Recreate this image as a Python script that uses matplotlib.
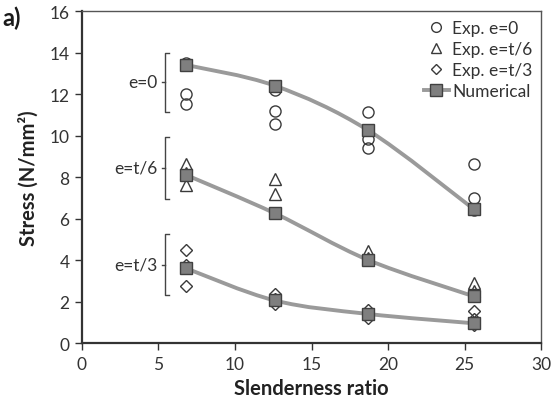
import numpy as np
import matplotlib
matplotlib.use("Agg")
import matplotlib.pyplot as plt
from matplotlib.path import Path
from matplotlib.patches import PathPatch

plt.rcParams['font.family'] = ['Lato', 'DejaVu Sans']

# slenderness ratios
slender = [6.8, 12.6, 18.7, 25.6]

# numerical results
num_e0 = [13.4, 12.4, 10.25, 6.45]
num_e6 = [8.1, 6.25, 4.0, 2.25]
num_e3 = [3.6, 2.05, 1.4, 0.95]

# experimental results (several specimens per slenderness)
exp_e0 = [[13.5, 12.0, 11.5], [12.2, 11.2, 10.55], [11.15, 9.85, 9.4], [8.65, 7.0, 6.4]]
exp_e6 = [[8.65, 8.2, 7.6], [7.9, 7.2], [4.45, 4.1], [2.9, 2.5]]
exp_e3 = [[4.5, 3.75, 2.75], [2.35, 2.1, 1.9], [1.6, 1.4, 1.2], [1.55, 1.15, 0.85]]

# group brackets: label, top, bottom
groups = [("e=0", 14.0, 11.15), ("e=t/6", 9.95, 6.95), ("e=t/3", 5.25, 2.3)]

fig = plt.figure(figsize=(5.55, 4.06), dpi=100)
ax = fig.add_axes([0.1477, 0.1527, 0.8273, 0.8177])


def smooth_path(x, y):
    # catmull-rom style smoothing like the spreadsheet "smoothed line"
    x = np.asarray(x, float)
    y = np.asarray(y, float)
    verts = [(x[0], y[0])]
    codes = [Path.MOVETO]
    n = len(x)
    for i in range(n - 1):
        p0 = (x[max(i - 1, 0)], y[max(i - 1, 0)])
        p1 = (x[i], y[i])
        p2 = (x[i + 1], y[i + 1])
        p3 = (x[min(i + 2, n - 1)], y[min(i + 2, n - 1)])
        c1 = (p1[0] + (p2[0] - p0[0]) / 6, p1[1] + (p2[1] - p0[1]) / 6)
        c2 = (p2[0] - (p3[0] - p1[0]) / 6, p2[1] - (p3[1] - p1[1]) / 6)
        verts += [c1, c2, p2]
        codes += [Path.CURVE4] * 3
    return Path(verts, codes)


line_col = '#9a9a9a'
for ny in (num_e0, num_e6, num_e3):
    ax.add_patch(PathPatch(smooth_path(slender, ny), fc='none', ec=line_col, lw=2.8, zorder=2))

edge = '#3a3a3a'
for data, mk, ms in ((exp_e0, 'o', 8), (exp_e6, '^', 8), (exp_e3, 'D', 6.5)):
    xs = [slender[i] for i, vals in enumerate(data) for _ in vals]
    ys = [v for vals in data for v in vals]
    ax.plot(xs, ys, ls='none', marker=mk, ms=ms, mfc='none', mec=edge, mew=1.0, zorder=3)

for ny in (num_e0, num_e6, num_e3):
    ax.plot(slender, ny, ls='none', marker='s', ms=8.5, mfc='#7f7f7f', mec='#404040', mew=1.0, zorder=4)

# legend handles
h1, = ax.plot([], [], ls='none', marker='o', ms=7, mfc='none', mec=edge, mew=1.0)
h2, = ax.plot([], [], ls='none', marker='^', ms=7, mfc='none', mec=edge, mew=1.0)
h3, = ax.plot([], [], ls='none', marker='D', ms=5.5, mfc='none', mec=edge, mew=1.0)
h4, = ax.plot([], [], color=line_col, lw=2.8, marker='s', ms=8.5, mfc='#7f7f7f', mec='#404040')
leg = ax.legend([h1, h2, h3, h4], ['Exp. e=0', 'Exp. e=t/6', 'Exp. e=t/3', 'Numerical'],
                loc='upper right', frameon=False, fontsize=12.5, handlelength=1.4,
                handletextpad=0.2, labelspacing=0.3, borderaxespad=0.1,
                bbox_to_anchor=(1.0, 1.0))
for t in leg.get_texts():
    t.set_color('#333333')

# brackets
bx = 5.45
for label, top, bot in groups:
    mid = (top + bot) / 2
    ax.plot([bx + 0.25, bx, bx, bx + 0.25], [top, top, bot, bot], color='#444444', lw=1.0, zorder=2)
    ax.plot([bx - 0.2, bx], [mid, mid], color='#444444', lw=1.0)
    ax.text(bx - 0.5, mid, label, ha='right', va='center', fontsize=12.5, color='#333333')

ax.set_xlim(0, 30)
ax.set_ylim(0, 16)
ax.set_xticks(np.arange(0, 31, 5))
ax.set_yticks(np.arange(0, 17, 2))
ax.tick_params(direction='out', length=5, width=1.0, labelsize=12.5, colors='#333333', pad=4)
for side in ('left', 'bottom'):
    ax.spines[side].set_linewidth(1.6)
    ax.spines[side].set_color('#333333')
for side in ('top', 'right'):
    ax.spines[side].set_linewidth(1.0)
    ax.spines[side].set_color('#555555')

ax.set_xlabel('Slenderness ratio', fontsize=14.5, fontweight='bold', color='#222222', labelpad=5)
ax.set_ylabel('Stress (N/mm²)', fontsize=14.5, fontweight='bold', color='#222222', labelpad=8)

fig.text(0.004, 0.955, 'a)', fontsize=17, fontweight='bold', color='#1a1a1a', ha='left', va='center')

fig.savefig('out.png', dpi=100)
